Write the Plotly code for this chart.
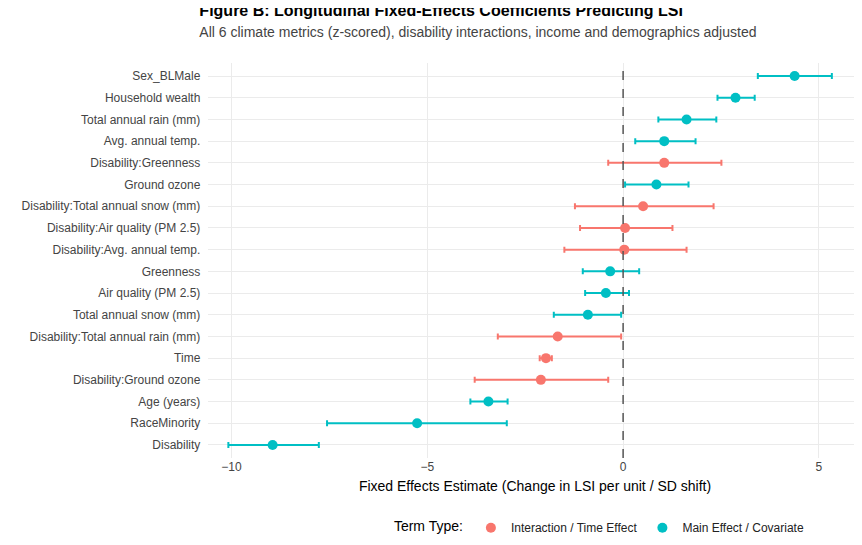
import pandas as pd
import plotly.graph_objects as go

# coefficients (estimate, lower, upper, type)
df = pd.DataFrame({
    'term': ['Sex_BLMale', 'Household wealth', 'Total annual rain (mm)', 'Avg. annual temp.',
             'Disability:Greenness', 'Ground ozone', 'Disability:Total annual snow (mm)',
             'Disability:Air quality (PM 2.5)', 'Disability:Avg. annual temp.', 'Greenness',
             'Air quality (PM 2.5)', 'Total annual snow (mm)', 'Disability:Total annual rain (mm)',
             'Time', 'Disability:Ground ozone', 'Age (years)', 'RaceMinority', 'Disability'],
    'est': [4.38, 2.87, 1.62, 1.05, 1.05, 0.85, 0.51, 0.05, 0.03, -0.33, -0.44, -0.90,
            -1.67, -1.97, -2.10, -3.44, -5.26, -8.95],
    'lo': [3.44, 2.41, 0.90, 0.31, -0.38, 0.05, -1.23, -1.10, -1.50, -1.03, -0.97, -1.77,
           -3.20, -2.13, -3.79, -3.90, -7.56, -10.08],
    'hi': [5.33, 3.36, 2.38, 1.85, 2.51, 1.67, 2.31, 1.26, 1.62, 0.41, 0.15, -0.05,
           -0.05, -1.82, -0.38, -2.95, -2.97, -7.77],
    'type': ['M', 'M', 'M', 'M', 'I', 'M', 'I', 'I', 'I', 'M', 'M', 'M', 'I', 'I', 'I', 'M', 'M', 'M'],
})
order = list(df['term'][::-1])
fig = go.Figure()
for t, name, col in [('I', 'Interaction / Time Effect', '#F8766D'), ('M', 'Main Effect / Covariate', '#00BFC4')]:
    d = df[df['type'] == t]
    fig.add_trace(go.Scatter(
        x=d['est'], y=d['term'], mode='markers', name=name,
        marker=dict(color=col, size=10),
        error_x=dict(type='data', symmetric=False, array=d['hi'] - d['est'],
                     arrayminus=d['est'] - d['lo'], color=col, thickness=2, width=3)))
fig.add_vline(x=0, line=dict(color='#555555', dash='dash', width=1.5))
fig.update_layout(
    width=862, height=545, template='plotly_white',
    font=dict(family='Liberation Sans, Arial', size=12, color='#444444'),
    title=dict(text='<b>Figure B: Longitudinal Fixed-Effects Coefficients Predicting LSI</b><br>'
                    '<span style="font-size:14px;color:#444">All 6 climate metrics (z-scored), disability interactions, income and demographics adjusted</span>',
               x=0.222, xanchor='left', y=0.985, yanchor='top', font=dict(size=16, color='black')),
    margin=dict(l=200, r=8, t=55, b=95),
    legend=dict(orientation='h', x=0.6, xanchor='center', y=-0.14, yanchor='top', itemwidth=30,
                title=dict(text='Term Type:', font=dict(size=14, color='black')), font=dict(size=12, color='#222')),
)
fig.update_xaxes(title=dict(text='Fixed Effects Estimate (Change in LSI per unit / SD shift)',
                            font=dict(size=14, color='black'), standoff=8),
                 range=[-10.6, 6.1], tickvals=[-10, -5, 0, 5], zeroline=False, gridcolor='#ebebeb')
fig.update_yaxes(categoryorder='array', categoryarray=order, gridcolor='#ebebeb',
                 range=[-0.6, 17.6], ticksuffix='  ')
fig.write_html('out.html')
